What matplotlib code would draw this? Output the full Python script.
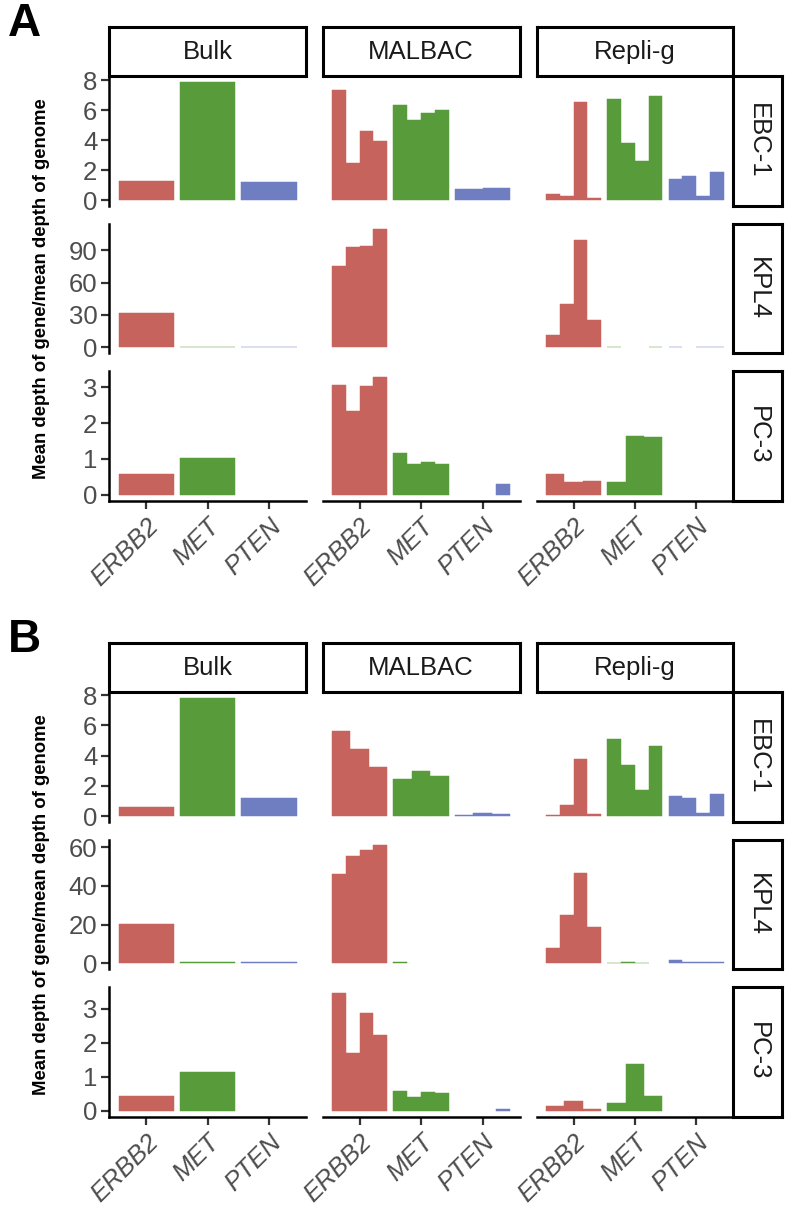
import numpy as np
import matplotlib
matplotlib.use("Agg")
import matplotlib.pyplot as plt

plt.rcParams['font.family'] = ['Liberation Sans', 'DejaVu Sans']

genes = ["ERBB2", "MET", "PTEN"]
methods = ["Bulk", "MALBAC", "Repli-g"]
cell_lines = ["EBC-1", "KPL4", "PC-3"]
gene_colors = ["#C6635C", "#579B3A", "#6E7EC0"]

# values per gene, one entry per sample (dodged sub-bars)
# panel A
A_ebc1_bulk = [[1.31], [7.85], [1.22]]
A_ebc1_malbac = [[7.33, 2.49, 4.64, 3.91], [6.33, 5.33, 5.78, 6.00], [0.72, 0.74, 0.80, 0.80]]
A_ebc1_repli = [[0.44, 0.29, 6.56, 0.13], [6.73, 3.84, 2.58, 6.91], [1.38, 1.64, 0.31, 1.89]]
A_kpl4_bulk = [[32.0], [0.8], [0.8]]
A_kpl4_malbac = [[75.1, 92.5, 94.0, 109.0], [0, 0, 0, 0], [0, 0, 0, 0]]
A_kpl4_repli = [[11.8, 39.8, 99.6, 24.9], [0.7, 0, 0, 0.7], [0.7, 0, 0.7, 0.7]]
A_pc3_bulk = [[0.59], [1.02], [0]]
A_pc3_malbac = [[3.08, 2.35, 3.05, 3.30], [1.16, 0.87, 0.91, 0.87], [0, 0, 0, 0.30]]
A_pc3_repli = [[0.57, 0.35, 0.39], [0.35, 1.64, 1.62], [0, 0, 0]]

# panel B
B_ebc1_bulk = [[0.64], [7.79], [1.23]]
B_ebc1_malbac = [[5.62, 4.45, 3.22], [2.48, 2.98, 2.63], [0.07, 0.24, 0.16]]
B_ebc1_repli = [[0.07, 0.72, 3.80, 0.16], [5.13, 3.38, 1.76, 4.63], [1.32, 1.23, 0.24, 1.47]]
B_kpl4_bulk = [[20.4], [0.5], [0.5]]
B_kpl4_malbac = [[46.0, 55.7, 58.8, 60.9], [0.5, 0, 0, 0], [0, 0, 0, 0]]
B_kpl4_repli = [[8.2, 25.0, 46.6, 18.7], [0.4, 0.9, 0.4, 0], [1.8, 0.5, 0.5, 0.5]]
B_pc3_bulk = [[0.42], [1.13], [0]]
B_pc3_malbac = [[3.47, 1.69, 2.88, 2.22], [0.58, 0.39, 0.54, 0.51], [0, 0, 0, 0.04]]
B_pc3_repli = [[0.13, 0.29, 0.06], [0.22, 1.36, 0.43], [0, 0, 0]]

panels = {
    "A": [[A_ebc1_bulk, A_ebc1_malbac, A_ebc1_repli],
          [A_kpl4_bulk, A_kpl4_malbac, A_kpl4_repli],
          [A_pc3_bulk, A_pc3_malbac, A_pc3_repli]],
    "B": [[B_ebc1_bulk, B_ebc1_malbac, B_ebc1_repli],
          [B_kpl4_bulk, B_kpl4_malbac, B_kpl4_repli],
          [B_pc3_bulk, B_pc3_malbac, B_pc3_repli]],
}
yticks = {
    "A": [[0, 2, 4, 6, 8], [0, 30, 60, 90], [0, 1, 2, 3]],
    "B": [[0, 2, 4, 6, 8], [0, 20, 40, 60], [0, 1, 2, 3]],
}

W, H = 788, 1212
fig = plt.figure(figsize=(W / 100, H / 100), dpi=100)


def px_axes(l, t, r, b):
    return fig.add_axes([l / W, 1 - b / H, (r - l) / W, (b - t) / H])


col_x = [(109.3, 306.0), (322.7, 519.5), (536.7, 733.0)]
rstrip_x = (733.0, 782.0)
row_h, row_gap, strip_h = 129.7, 17.5, 49.0
panel_top = {"A": 76.4, "B": 692.4}
tick_grey = "#4D4D4D"


def strip(l, t, r, b, label, rot=0):
    sa = px_axes(l, t, r, b)
    sa.set_xticks([])
    sa.set_yticks([])
    for s in sa.spines.values():
        s.set_linewidth(2.2)
        s.set_color("black")
    sa.text(0.5, 0.5, label, transform=sa.transAxes, ha="center", va="center",
            rotation=rot, fontsize=18.5, color="#1A1A1A")


for p in ["A", "B"]:
    top = panel_top[p]
    for r in range(3):
        t = top + r * (row_h + row_gap)
        b = t + row_h
        ymax = max(max(v) for facet in panels[p][r] for v in facet)
        for c in range(3):
            ax = px_axes(col_x[c][0], t, col_x[c][1], b)
            facet = panels[p][r][c]
            for g, vals in enumerate(facet):
                n = len(vals)
                w = 0.9 / n
                xs = g - 0.45 + w * (np.arange(n) + 0.5)
                heights = np.array(vals, dtype=float)
                keep = heights > 0
                ax.bar(xs[keep], heights[keep], width=w, color=gene_colors[g],
                       edgecolor=gene_colors[g], linewidth=0.35)
            ax.set_xlim(-0.6, 2.6)
            ax.set_ylim(-0.05 * ymax, 1.05 * ymax)
            ax.spines["top"].set_visible(False)
            ax.spines["right"].set_visible(False)
            for side in ["left", "bottom"]:
                ax.spines[side].set_linewidth(1.8)
                ax.spines[side].set_color("black")
            if c == 0:
                ax.set_yticks(yticks[p][r])
                ax.tick_params(axis="y", length=5.5, width=1.6, color="#333333",
                               labelsize=18.5, labelcolor=tick_grey, pad=3)
            else:
                ax.spines["left"].set_visible(False)
                ax.set_yticks([])
            if r == 2:
                ax.set_xticks(range(3))
                ax.set_xticklabels(genes, rotation=45, ha="right", va="top",
                                   rotation_mode="anchor", style="italic")
                ax.tick_params(axis="x", length=5.5, width=1.6, color="#333333",
                               labelsize=18.5, labelcolor=tick_grey, pad=4)
            else:
                ax.spines["bottom"].set_visible(False)
                ax.set_xticks([])
        strip(rstrip_x[0], t, rstrip_x[1], b, cell_lines[r], rot=270)
    for c in range(3):
        strip(col_x[c][0], top - strip_h, col_x[c][1], top, methods[c])
    mid = top + (3 * row_h + 2 * row_gap) / 2
    fig.text(42 / W, 1 - mid / H, "Mean depth of gene/mean depth of genome",
             rotation=90, ha="center", va="center", fontsize=13.3,
             fontweight="bold", color="black")
    fig.text(8 / W, 1 - (top - 74) / H, p, ha="left", va="top",
             fontsize=33, fontweight="bold", color="black")

fig.savefig("out.png", dpi=100)
